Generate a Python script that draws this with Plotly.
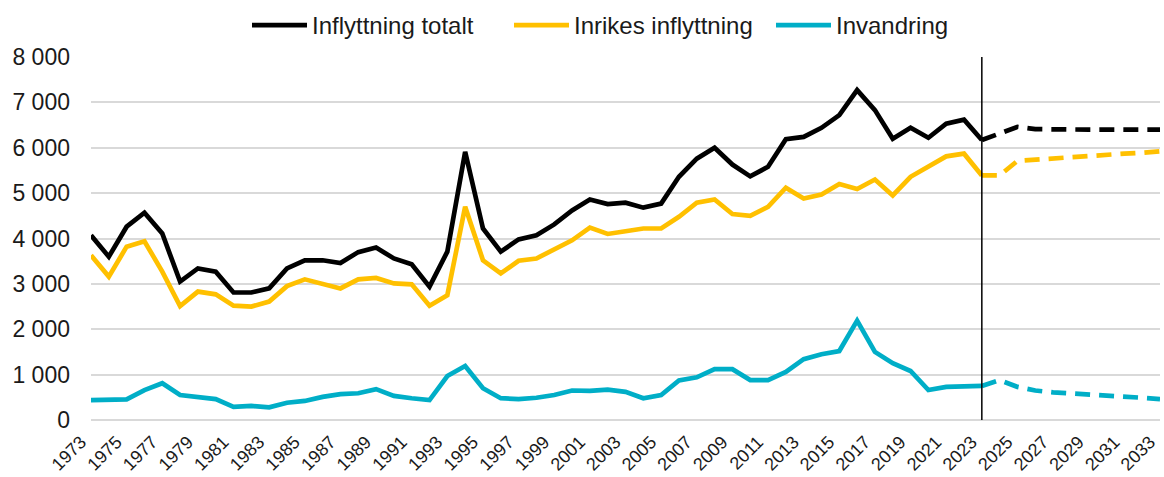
import plotly.graph_objects as go

# ---- data ----
hist_years = list(range(1973, 2024))
fc_years = list(range(2023, 2034))
tick_years = list(range(1973, 2034, 2))
forecast_start = 2023

totalt_hist = [4070, 3600, 4260, 4570, 4110, 3050, 3340, 3270, 2810, 2810, 2900, 3340, 3520, 3520, 3460, 3700, 3800, 3560,
               3430, 2940, 3710, 5910, 4220, 3710, 3980, 4070, 4310, 4620, 4860, 4760, 4790, 4680, 4770, 5360, 5760, 6000, 5630, 5370, 5580,
               6190, 6240, 6440, 6720, 7270, 6830, 6200, 6440, 6220, 6530, 6620, 6170]
inrikes_hist = [3630, 3160, 3820, 3940, 3270, 2510, 2830, 2770, 2520, 2500, 2610, 2950, 3100, 3010, 2900, 3100, 3130, 3010,
                2990, 2520, 2750, 4700, 3520, 3230, 3510, 3560, 3760, 3960, 4240, 4100, 4160, 4220, 4220, 4480, 4790, 4860, 4540, 4500, 4700,
                5120, 4880, 4970, 5200, 5090, 5300, 4950, 5360, 5590, 5810, 5870, 5390]
invandring_hist = [440, 440, 455, 660, 810, 550, 510, 460, 290, 310, 280, 380, 420, 510, 570, 590, 680, 530,
                   480, 440, 970, 1190, 700, 480, 460, 490, 550, 650, 640, 670, 620, 480, 550, 870, 940, 1120, 1120, 880, 880,
                   1060, 1340, 1450, 1520, 2190, 1500, 1250, 1080, 660, 730, 750, 750]

totalt_fc = [6170, 6310, 6460, 6410, 6400, 6400, 6400, 6400, 6400, 6400, 6400]
inrikes_fc = [5390, 5390, 5710, 5740, 5760, 5800, 5820, 5850, 5870, 5890, 5920]
invandring_fc = [750, 880, 730, 650, 610, 590, 570, 540, 520, 490, 460]

names = ["Inflyttning totalt", "Inrikes inflyttning", "Invandring"]
colors = ["#000000", "#FFC000", "#00AEC7"]

FONT = "Liberation Sans, Arial, sans-serif"
TXT = "#1a1a1a"

fig = go.Figure()
for name, color, hist, fc in zip(names, colors,
                                 [totalt_hist, inrikes_hist, invandring_hist],
                                 [totalt_fc, inrikes_fc, invandring_fc]):
    fig.add_trace(go.Scatter(x=hist_years, y=hist, mode="lines", name=name,
                             line=dict(color=color, width=4.7), showlegend=True))
    fig.add_trace(go.Scatter(x=fc_years, y=fc, mode="lines", name=name + " (prognos)",
                             line=dict(color=color, width=4.7, dash="15px,9px"), showlegend=False))

fig.add_shape(type="line", x0=forecast_start, x1=forecast_start, y0=0, y1=8000,
              xref="x", yref="y", line=dict(color="#000000", width=1.5), layer="above")

fig.update_layout(
    width=1164, height=477,
    margin=dict(l=91, r=4, t=57, b=57, autoexpand=False),
    paper_bgcolor="white", plot_bgcolor="white",
    separators=", ",
    font=dict(family=FONT, size=23, color=TXT),
    legend=dict(orientation="h", xref="container", yref="container",
                x=247 / 1164, xanchor="left", y=1 - 3 / 477, yanchor="top",
                entrywidth=192, entrywidthmode="pixels",
                font=dict(family=FONT, size=24, color=TXT), itemwidth=55,
                bgcolor="rgba(0,0,0,0)"),
)
fig.update_xaxes(range=[1973, 2033], tickmode="array", tickvals=tick_years,
                 ticktext=[str(y) for y in tick_years], tickangle=-45,
                 showgrid=False, zeroline=False, showline=False, ticks="", automargin=False,
                 ticklabeloverflow="allow", ticklabelshift=-10, ticklabelstandoff=7,
                 tickfont=dict(family=FONT, size=18, color=TXT))
fig.update_yaxes(range=[0, 8000], dtick=1000, tickformat=",d", showgrid=True,
                 gridcolor="#d9d9d9", gridwidth=1.5, zeroline=True, zerolinecolor="#d9d9d9",
                 zerolinewidth=1.5, showline=False, ticks="", ticklen=0, automargin=False,
                 ticklabelstandoff=20,
                 tickfont=dict(family=FONT, size=23, color=TXT))

fig.write_html("out.html", config={"displayModeBar": False},
               post_script="document.body.style.margin='0';document.body.style.overflow='hidden';")
